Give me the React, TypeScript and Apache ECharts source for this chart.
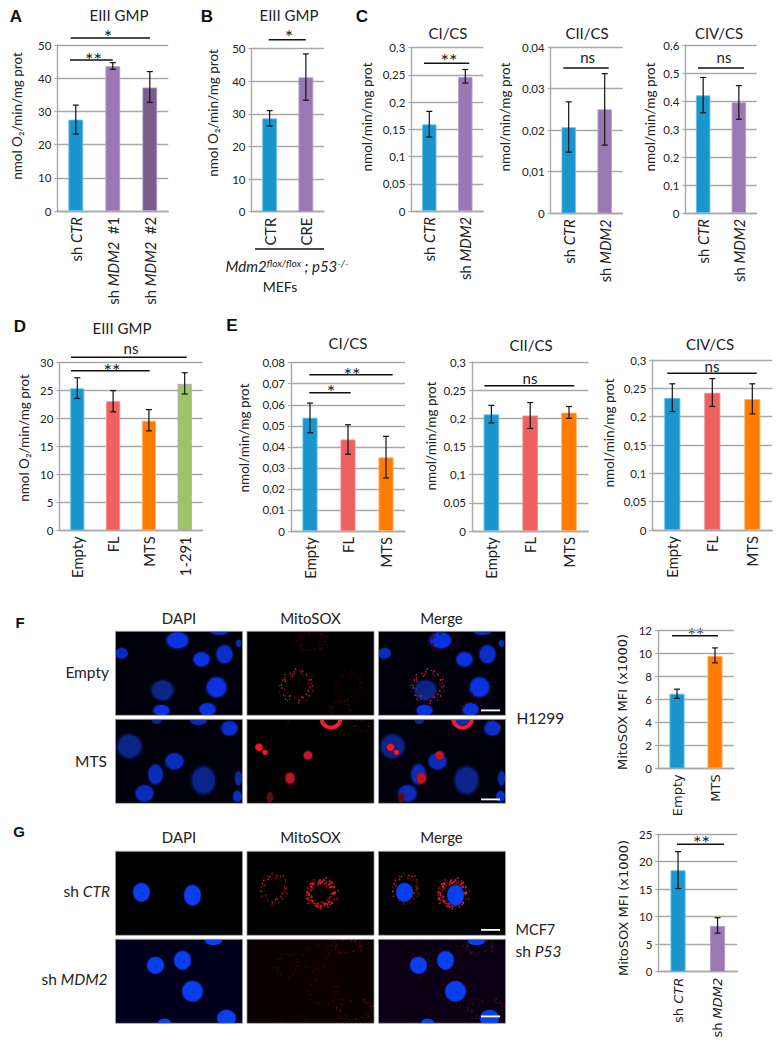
import React, { useEffect, useRef } from "react";
import * as echarts from "echarts";

const BLUE = "#1b95cd", PURPLE = "#9a78b3", DARK = "#7a5c8d", RED = "#ee6161", ORANGE = "#ff7c00", GREEN = "#9dc563";
const GRID = "#a9a9a9", INK = "#222222";
const FONT = "Lato, 'Noto Sans', sans-serif";
const WIDE = "'DejaVu Sans', sans-serif";

// ---------- data ----------
const catsA = ["sh CTR", "sh MDM2  #1", "sh MDM2  #2"];
const valsA = [27.5, 43.6, 37.2];
const loA = [23.2, 42.7, 32.7];
const hiA = [31.9, 44.7, 42];
const catsB = ["CTR", "CRE"];
const valsB = [28.6, 41.2];
const loB = [26.3, 34.2];
const hiB = [31, 48.4];
const catsShort = ["sh CTR", "sh MDM2"];
const valsC1 = [0.159, 0.246];
const loC1 = [0.136, 0.235];
const hiC1 = [0.183, 0.26];
const valsC2 = [0.0207, 0.025];
const loC2 = [0.0147, 0.0164];
const hiC2 = [0.0268, 0.0336];
const valsC3 = [0.42, 0.395];
const loC3 = [0.358, 0.335];
const hiC3 = [0.484, 0.455];
const catsD = ["Empty", "FL", "MTS", "1-291"];
const valsD = [25.4, 23.1, 19.6, 26.2];
const loD = [23.6, 21.2, 17.8, 24.4];
const hiD = [27.3, 25, 21.6, 28.2];
const catsE = ["Empty", "FL", "MTS"];
const valsE1 = [0.0538, 0.0435, 0.035];
const loE1 = [0.0467, 0.0365, 0.0252];
const hiE1 = [0.0608, 0.0505, 0.045];
const valsE2 = [0.207, 0.205, 0.21];
const loE2 = [0.192, 0.182, 0.2];
const hiE2 = [0.223, 0.228, 0.221];
const valsE3 = [0.233, 0.242, 0.231];
const loE3 = [0.209, 0.218, 0.205];
const hiE3 = [0.258, 0.267, 0.258];
const catsF = ["Empty", "MTS"];
const valsF = [6.5, 9.8];
const loF = [6.1, 9.2];
const hiF = [6.9, 10.5];
const valsG = [18.4, 8.3];
const loG = [15.1, 7];
const hiG = [21.8, 9.8];

const O2NAME = "nmol O₂/min/mg prot";
const RATENAME = "nmol/min/mg prot";
const MFINAME = "MitoSOX MFI (x1000)";

// ---------- chart layout ----------
type P = {
  l: number; r: number; t: number; b: number; max: number; step: number; bw: number;
  cats: string[]; v: number[]; lo: number[]; hi: number[]; col: string[];
  name: string; nx: number; ny: number; wide?: boolean;
};
const panels: P[] = [
  { l: 57.3, r: 168.3, t: 45, b: 211, max: 50, step: 10, bw: 14.7, cats: catsA, v: valsA, lo: loA, hi: hiA, col: [BLUE, PURPLE, DARK], name: O2NAME, nx: 17, ny: 116 },
  { l: 251.5, r: 324, t: 48.7, b: 211.7, max: 50, step: 10, bw: 14.7, cats: catsB, v: valsB, lo: loB, hi: hiB, col: [BLUE, PURPLE], name: O2NAME, nx: 213, ny: 113 },
  { l: 411.3, r: 483.3, t: 47.7, b: 211, max: 0.3, step: 0.05, bw: 14.3, cats: catsShort, v: valsC1, lo: loC1, hi: hiC1, col: [BLUE, PURPLE], name: RATENAME, nx: 367, ny: 117 },
  { l: 550.7, r: 622.7, t: 47, b: 213.3, max: 0.04, step: 0.01, bw: 14.3, cats: catsShort, v: valsC2, lo: loC2, hi: hiC2, col: [BLUE, PURPLE], name: RATENAME, nx: 505, ny: 117 },
  { l: 685.3, r: 756.7, t: 45, b: 213, max: 0.6, step: 0.1, bw: 14.3, cats: catsShort, v: valsC3, lo: loC3, hi: hiC3, col: [BLUE, PURPLE], name: RATENAME, nx: 650, ny: 117 },
  { l: 59.4, r: 202.6, t: 362.7, b: 530.3, max: 30, step: 5, bw: 14, cats: catsD, v: valsD, lo: loD, hi: hiD, col: [BLUE, RED, ORANGE, GREEN], name: O2NAME, nx: 24, ny: 438 },
  { l: 291, r: 405, t: 362.7, b: 531, max: 0.08, step: 0.01, bw: 15, cats: catsE, v: valsE1, lo: loE1, hi: hiE1, col: [BLUE, RED, ORANGE], name: RATENAME, nx: 244, ny: 438 },
  { l: 472, r: 588.4, t: 362, b: 531, max: 0.3, step: 0.05, bw: 15.5, cats: catsE, v: valsE2, lo: loE2, hi: hiE2, col: [BLUE, RED, ORANGE], name: RATENAME, nx: 430.7, ny: 436 },
  { l: 652.3, r: 772.3, t: 360, b: 530, max: 0.3, step: 0.05, bw: 16, cats: catsE, v: valsE3, lo: loE3, hi: hiE3, col: [BLUE, RED, ORANGE], name: RATENAME, nx: 609, ny: 433 },
  { l: 658, r: 734, t: 630.7, b: 768.3, max: 12, step: 2, bw: 15, cats: catsF, v: valsF, lo: loF, hi: hiF, col: [BLUE, ORANGE], name: MFINAME, nx: 622, ny: 702, wide: true },
  { l: 658.3, r: 737.3, t: 834, b: 971.7, max: 25, step: 5, bw: 15, cats: catsShort, v: valsG, lo: loG, hi: hiG, col: [BLUE, PURPLE], name: MFINAME, nx: 623.5, ny: 908, wide: true },
];

// ---------- annotations ----------
const txt = (x: number, y: number, text: string, o: any = {}) => ({
  type: "text", x, y, silent: true,
  style: { text, fontFamily: FONT, fontSize: 15, fill: INK, align: "center", verticalAlign: "middle", ...o },
});
const star = (x: number, y: number, s: string) => txt(x, y + 3.5, s, { fontSize: 20 });
const bar = (x1: number, x2: number, y: number, w = 1.4) => ({
  type: "line", silent: true, shape: { x1, y1: y, x2, y2: y }, style: { stroke: "#111", lineWidth: w },
});
const letter = (x: number, y: number, t: string, s = 17) =>
  txt(x, y, t, { fontFamily: "'Liberation Sans', sans-serif", fontWeight: "bold", fontSize: s, fill: "#111" });
const richText = (x: number, y: number, text: string, align: string, size = 15.5) => ({
  type: "text", x, y, silent: true,
  style: { text, align, verticalAlign: "middle", fontFamily: FONT, fontSize: size, fill: INK, rich: { i: { fontFamily: FONT, fontStyle: "italic", fontSize: size, fill: INK } } },
});

const annotations = [
  letter(16, 16, "A"), letter(207, 16, "B"), letter(362, 16, "C"), letter(20, 326, "D"), letter(232, 325, "E"), letter(20, 622, "F", 15), letter(19, 831, "G", 15),
  txt(119, 15, "EIII GMP"), txt(289, 15, "EIII GMP"), txt(448, 33, "CI/CS"), txt(587, 33, "CII/CS"), txt(719, 33, "CIV/CS"),
  txt(122, 328, "EIII GMP"), txt(348, 343, "CI/CS"), txt(531, 345, "CII/CS"), txt(710, 344, "CIV/CS"),
  bar(70.7, 150, 38), star(108, 32, "*"), bar(70, 112.7, 60), star(93.5, 55, "**"),
  bar(268.7, 305.7, 39.7), star(289, 32, "*"),
  bar(255, 324, 249),
  {
    type: "text", x: 287, y: 266, silent: true,
    style: {
      text: "{i|Mdm2}{s|flox/flox}{i| ; p53}{s|-/-}", align: "center", verticalAlign: "middle", fill: INK, fontFamily: FONT,
      rich: {
        i: { fontFamily: FONT, fontStyle: "italic", fontSize: 15, fill: INK },
        s: { fontFamily: FONT, fontStyle: "italic", fontSize: 10, fill: INK, padding: [0, 0, 6, 0] },
      },
    },
  },
  txt(280, 286, "MEFs", { fontSize: 14 }),
  bar(424, 469.3, 63.3), star(449, 56, "**"),
  bar(563.3, 608.7, 68), txt(587.6, 57, "ns"),
  bar(698, 744, 68), txt(724, 57, "ns"),
  txt(131, 348, "ns"), bar(71, 186.7, 357.3), bar(71, 149.7, 370.7), star(112, 366, "**"),
  bar(309.3, 392.7, 374.7), star(352, 370, "**"), bar(309.3, 350.7, 392.7), star(331, 387.5, "*"),
  bar(484.3, 574.3, 385.7), txt(530, 378, "ns"),
  bar(667.3, 756.7, 373.3), txt(712, 365.7, "ns"),
  bar(672, 718, 635.7), star(696, 630, "**"),
  bar(677, 724, 844.3), star(701.5, 838, "**"),
  txt(179, 618, "DAPI"), txt(310.5, 618, "MitoSOX"), txt(441.5, 618, "Merge"),
  txt(179, 837, "DAPI"), txt(310.5, 837, "MitoSOX"), txt(441.5, 837, "Merge"),
  txt(109, 672, "Empty", { fontSize: 15.5, align: "right" }), txt(107, 761, "MTS", { fontSize: 15.5, align: "right" }),
  txt(516.5, 718, "H1299", { fontSize: 15.5, align: "left" }),
  richText(110, 891, "sh {i|CTR}", "right"),
  richText(107.5, 979, "sh {i|MDM2}", "right"),
  txt(515.5, 929, "MCF7", { fontSize: 14.5, align: "left" }),
  richText(515.5, 951, "sh {i|P53}", "left"),
];

// ---------- micrograph panels ----------
const COLX = [115.5, 247, 378.5];
const PW = 127, PH = 84;
const rowF1 = 631.3, rowF2 = 719.3, rowG1 = 851.3, rowG2 = 939.3;

const radial = (a: string, b: string, mid = 0.7) => ({
  type: "radial", x: 0.5, y: 0.5, r: 0.5,
  colorStops: [{ offset: 0, color: a }, { offset: mid, color: a }, { offset: 1, color: b }],
});
const nuc = (ox: number, oy: number, n: number[], col: string, edge: string, mid = 0.7) => ({
  type: "ellipse", silent: true, shape: { cx: ox + n[0], cy: oy + n[1], rx: n[2], ry: n[3] },
  style: { fill: radial(col, edge, mid) },
});
// mitochondrial speckle along a cell outline (fixed, hand-tuned wobble; picture texture, no data)
const specks = (ox: number, oy: number, n: number[], col: string, op: number, size = 1) => {
  const out: any[] = [];
  const count = Math.round((n[2] + n[3]) * 3.2);
  for (let k = 0; k < count; k++) {
    const t = (k / count) * Math.PI * 2 + 0.25 * Math.sin(k * 1.7);
    const w = 1 + 0.15 * Math.sin(k * 2.9) + 0.09 * Math.cos(k * 5.3);
    const r = size * (0.45 + 0.6 * Math.abs(Math.sin(k * 3.7)));
    out.push({
      type: "circle", silent: true,
      shape: { cx: ox + n[0] + Math.cos(t) * n[2] * w, cy: oy + n[1] + Math.sin(t) * n[3] * w, r },
      style: { fill: col, opacity: op * (0.55 + 0.45 * Math.abs(Math.cos(k * 2.1))) },
    });
  }
  return out;
};
const blob = (ox: number, oy: number, n: number[], col: string) => ({
  type: "ellipse", silent: true, shape: { cx: ox + n[0], cy: oy + n[1], rx: n[2], ry: n[3] },
  style: { fill: radial(col, "rgba(120,0,10,0)", 0.65) },
});

// [x, y, rx, ry, brightness 0 dim / 1 bright]
const nucF1 = [[62, 9, 12, 9, 1], [6, 22, 7, 6, 0.6], [86, 28, 9, 8, 1], [109, 23, 9, 10, 0.7], [47, 59, 12, 11, 0], [101, 56, 11, 11, 1], [46, 79, 9, 6, 1], [92, 78, 9, 7, 1], [104, 1, 9, 3, 0.5], [123, 12, 3, 4, 0.5]];
const nucF2 = [[14, 27, 13, 13, 0], [59, 42, 10, 9, 0.6], [40, 55, 8, 11, 0.6], [29, 74, 10, 9, 0.6], [88, 61, 13, 15, 0], [114, 9, 9, 8, 0.7], [83, 2, 9, 4, 0.5], [41, 2, 5, 3, 0], [123, 59, 4, 8, 0.3], [122, 77, 5, 6, 0.7]];
const nucG1 = [[26, 41, 9, 10], [77, 44, 9, 11]];
const nucG2 = [[40, 26, 9, 9], [67, 21, 9, 10], [77, 52, 11, 11], [111, 79, 10, 9], [98, 2, 9, 4], [49, 84, 7, 5]];

const tile = (cx: number, y: number, bg = "#000000") => ({ type: "rect", silent: true, shape: { x: COLX[cx], y, width: PW, height: PH }, style: { fill: bg } });
const frame = (cx: number, y: number) => ({ type: "rect", silent: true, shape: { x: COLX[cx], y, width: PW, height: PH }, style: { fill: "none", stroke: "#8c8c8c", lineWidth: 0.8 } });

const lerp = (b: number) => `rgb(${10},${Math.round(36 + b * 14)},${Math.round(135 + b * 90)})`;
const nucleiF = (ox: number, oy: number, list: number[][]) => list.map((n) => nuc(ox, oy, [n[0], n[1], n[2] * 1.12, n[3] * 1.12], lerp(n[4]), "rgba(4,10,70,0)", 0.72));
const nucleiG = (ox: number, oy: number, list: number[][]) =>
  list.flatMap((n) => [
    nuc(ox, oy, n, "#0a3fee", "rgba(6,30,170,0.6)", 0.85),
    { type: "circle", silent: true, shape: { cx: ox + n[0] + 1, cy: oy + n[1] + 1, r: 1.1 }, style: { fill: "#08309c", opacity: 0.7 } },
  ]);

const redF1 = (ox: number, oy: number) => [
  ...specks(ox, oy, [65, 10, 14, 9], "#3c0608", 0.8, 1),
  ...specks(ox, oy, [102, 55, 13, 13], "#2c0406", 0.8, 0.9),
  ...specks(ox, oy, [93, 78, 10, 8], "#3c0608", 0.8, 0.9),
  ...specks(ox, oy, [50, 55, 15, 14], "#e01c2a", 1, 0.8),
  ...specks(ox, oy, [50, 53, 13, 12], "#8c141c", 0.7, 0.5),
];
const arcRed = (ox: number, oy: number) => ({
  type: "arc", silent: true, shape: { cx: ox + 84, cy: oy - 1, r: 9.5, startAngle: 0.1, endAngle: Math.PI - 0.1, clockwise: true },
  style: { fill: "none", stroke: "#f01f2c", lineWidth: 4 },
});
const redF2 = (ox: number, oy: number) => [
  blob(ox, oy, [12, 28, 4.8, 4.8], "#ff1028"),
  blob(ox, oy, [18, 33, 3.4, 3.4], "#ff1028"),
  blob(ox, oy, [61, 36, 5.5, 5.5], "#c01824"),
  blob(ox, oy, [43, 59, 6, 7], "#b81622"),
  ...specks(ox, oy, [61, 36, 4, 4], "#d01a26", 0.8, 0.5),
  ...specks(ox, oy, [43, 59, 5, 6], "#c81824", 0.8, 0.5),
  blob(ox, oy, [23, 78, 4, 6], "#5a0e14"),
  ...specks(ox, oy, [23, 78, 3.5, 5], "#901620", 0.8, 0.45),
  arcRed(ox, oy),
  ...specks(ox, oy, [115, 6, 7, 6], "#801218", 0.9, 0.6),
  ...specks(ox, oy, [41, 4, 2, 3], "#8a1218", 0.9, 0.4),
];
const redG1 = (ox: number, oy: number) => [
  ...specks(ox, oy, [27, 37, 12, 13], "#c41620", 1, 0.85),
  ...specks(ox, oy, [74, 42, 12, 11], "#b81820", 1, 1),
  ...specks(ox, oy, [74, 42, 14, 13], "#ee1c26", 1, 1),
  ...specks(ox, oy, [74, 42, 9, 9], "#a01820", 0.8, 0.55),
];
const redG2 = (ox: number, oy: number) => [
  ...specks(ox, oy, [40, 26, 11, 11], "#700c12", 0.9, 0.6),
  ...specks(ox, oy, [68, 19, 13, 12], "#540a0e", 0.85, 0.6),
  ...specks(ox, oy, [76, 51, 13, 13], "#5c0a10", 0.85, 0.6),
  ...specks(ox, oy, [76, 51, 18, 15], "#360808", 0.85, 0.6),
  ...specks(ox, oy, [100, 7, 13, 7], "#801016", 0.9, 0.7),
  ...specks(ox, oy, [108, 70, 18, 10], "#6c1016", 0.9, 0.7),
  ...specks(ox, oy, [48, 80, 14, 6], "#440a0e", 0.9, 0.6),
];

const micro: any[] = [
  tile(0, rowF1, "#01010c"), tile(1, rowF1), tile(2, rowF1, "#01010c"),
  tile(0, rowF2, "#01010c"), tile(1, rowF2), tile(2, rowF2, "#01010c"),
  tile(0, rowG1), tile(1, rowG1), tile(2, rowG1),
  tile(0, rowG2, "#00001c"), tile(1, rowG2, "#0a0002"), tile(2, rowG2, "#0a0014"),
  ...nucleiF(COLX[0], rowF1, nucF1), ...redF1(COLX[1], rowF1), ...nucleiF(COLX[2], rowF1, nucF1), ...redF1(COLX[2], rowF1),
  ...nucleiF(COLX[0], rowF2, nucF2), ...redF2(COLX[1], rowF2), ...nucleiF(COLX[2], rowF2, nucF2), ...redF2(COLX[2], rowF2),
  ...nucleiG(COLX[0], rowG1, nucG1), ...redG1(COLX[1], rowG1), ...redG1(COLX[2], rowG1), ...nucleiG(COLX[2], rowG1, nucG1),
  ...nucleiG(COLX[0], rowG2, nucG2), ...redG2(COLX[1], rowG2), ...redG2(COLX[2], rowG2), ...nucleiG(COLX[2], rowG2, nucG2),
];

// white strips that clip whatever leaves a tile
const mask = (x: number, y: number, width: number, height: number) => ({ type: "rect", silent: true, shape: { x, y, width, height }, style: { fill: "#fff" } });
const masks = [
  mask(100, rowF1 - 11, 420, 11), mask(COLX[0], rowF1 + PH, 390, rowF2 - rowF1 - PH), mask(100, rowF2 + PH, 420, 10),
  mask(100, rowG1 - 11, 420, 11), mask(COLX[0], rowG1 + PH, 390, rowG2 - rowG1 - PH), mask(100, rowG2 + PH, 420, 12),
  ...[rowF1, rowF2, rowG1, rowG2].flatMap((y) => [
    mask(COLX[0] - 12, y, 12, PH), mask(COLX[0] + PW, y, COLX[1] - COLX[0] - PW, PH),
    mask(COLX[1] + PW, y, COLX[2] - COLX[1] - PW, PH), mask(COLX[2] + PW, y, 10, PH),
  ]),
];
const frames = [rowF1, rowF2, rowG1, rowG2].flatMap((y) => [frame(0, y), frame(1, y), frame(2, y)]);
const scaleBar = (y: number) => ({ type: "rect", silent: true, shape: { x: 481, y, width: 19, height: 1.8 }, style: { fill: "#fff" } });
const scaleBars = [scaleBar(709.5), scaleBar(798.5), scaleBar(929), scaleBar(1015.5)];

const names = panels
  .map((p) => txt(p.nx, p.ny, p.name, { fontSize: p.wide ? 13 : 13.5, fontFamily: p.wide ? WIDE : FONT }))
  .map((t) => ({ ...t, rotation: Math.PI / 2 }));

const comma = (v: number) => String(+v.toFixed(4)).replace(".", ",");
const italicise = (s: string) => s.replace(/(CTR|MDM2)/, (m) => (s === "CTR" ? m : `{i|${m}}`));

function buildOption() {
  const series: any[] = [];
  panels.forEach((p, i) => {
    series.push({
      type: "bar", xAxisIndex: i, yAxisIndex: i, barWidth: p.bw, silent: true,
      data: p.v.map((value, k) => ({ value, itemStyle: { color: p.col[k], borderColor: p.col[k] === ORANGE ? "#ffb26b" : p.col[k] === BLUE ? "#63bfe8" : p.col[k] === RED ? "#f58a8a" : "#b29ac6", borderWidth: 0.8 } })),
    });
    series.push({
      type: "custom", xAxisIndex: i, yAxisIndex: i, silent: true, z: 5,
      encode: { x: 0, y: [1, 2] },
      data: p.v.map((_, k) => [k, p.lo[k], p.hi[k]]),
      renderItem: (_: any, api: any) => {
        const a = api.coord([api.value(0), api.value(1)]);
        const b = api.coord([api.value(0), api.value(2)]);
        const st = { stroke: "#111", lineWidth: 1.2 };
        const cap = 3;
        return {
          type: "group",
          children: [
            { type: "line", shape: { x1: a[0], y1: a[1], x2: b[0], y2: b[1] }, style: st },
            { type: "line", shape: { x1: a[0] - cap, y1: a[1], x2: a[0] + cap, y2: a[1] }, style: st },
            { type: "line", shape: { x1: b[0] - cap, y1: b[1], x2: b[0] + cap, y2: b[1] }, style: st },
          ],
        };
      },
    });
  });
  return {
    animation: false,
    backgroundColor: "#fff",
    tooltip: { show: false },
    grid: panels.map((p) => ({ left: p.l, top: p.t, width: p.r - p.l, height: p.b - p.t, containLabel: false })),
    xAxis: panels.map((p, i) => ({
      type: "category", gridIndex: i, data: p.cats,
      axisTick: { show: false },
      axisLine: { lineStyle: { color: GRID, width: 1.4 } },
      axisLabel: {
        rotate: 90, interval: 0, margin: 6, color: INK,
        fontFamily: p.wide ? WIDE : FONT, fontSize: p.wide ? 13 : 14.8,
        formatter: italicise,
        rich: { i: { fontFamily: p.wide ? WIDE : FONT, fontStyle: "italic", fontSize: p.wide ? 13 : 14.8, color: INK } },
      },
    })),
    yAxis: panels.map((p, i) => ({
      type: "value", gridIndex: i, min: 0, max: p.max, interval: p.step,
      axisLine: { show: true, lineStyle: { color: GRID, width: 1.4 } },
      axisTick: { show: true, length: 3, lineStyle: { color: GRID, width: 1.2 } },
      splitLine: { show: true, lineStyle: { color: GRID, width: 1.4 } },
      axisLabel: { margin: 6, color: INK, fontFamily: FONT, fontSize: 11.5, formatter: comma },
    })),
    series,
    graphic: { elements: [...micro, ...masks, ...frames, ...scaleBars, ...annotations, ...names] },
  };
}

export default function App() {
  const ref = useRef<HTMLDivElement>(null);
  useEffect(() => {
    document.body.style.margin = "0";
    const chart = echarts.init(ref.current!, undefined, { renderer: "svg" });
    chart.setOption(buildOption() as any);
    return () => chart.dispose();
  }, []);
  return <div ref={ref} style={{ position: "absolute", left: 0, top: 0, width: 783, height: 1050, background: "#fff" }} />;
}
